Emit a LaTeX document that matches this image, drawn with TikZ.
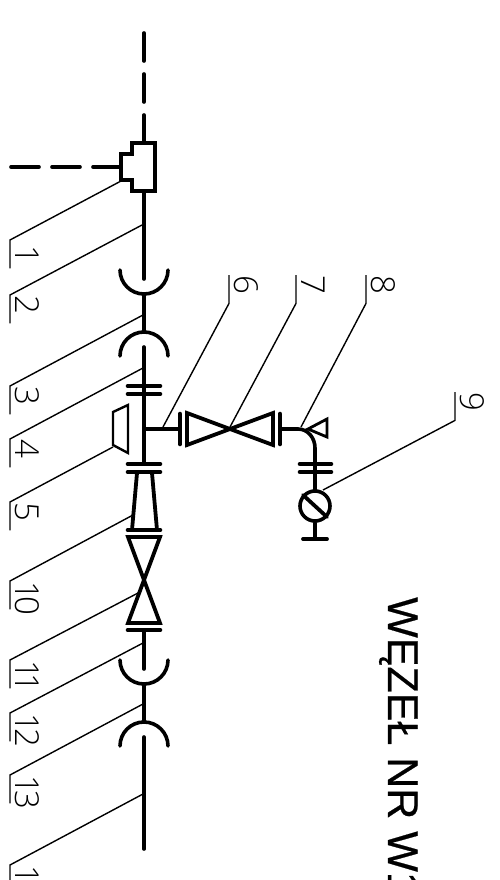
\documentclass[tikz,border=0pt]{standalone}
\usepackage{fontspec}
\setmainfont{Liberation Sans}
\newfontfamily\numfont[UprightFont=* Light]{Open Sans}
\newfontfamily\titlefont[FakeBold=0.5]{Liberation Sans}
\usepackage{tikz}
\usetikzlibrary{positioning}

\begin{document}
\begin{tikzpicture}[x=1pt, y=-1pt, line cap=round, line join=miter,
  pipe/.style={draw, line width=3.6pt},
  flange/.style={draw, line width=4.6pt},
  fitting/.style={draw, line width=3.8pt},
  leader/.style={draw, line width=1.4pt, line cap=butt},
  posnum/.style={rotate=-90, anchor=south west, inner xsep=0pt, inner ysep=5pt, text width=28pt, text depth=0pt, font=\numfont\fontsize{33}{33}\selectfont},
  future/.style={pipe, dash pattern=on 28pt off 13pt}]

\clip (0, 0) rectangle (500, 880);

% dashed inlets

\coordinate (top) at (144, 33);
\coordinate (teetop) at (144, 143);
\coordinate (left) at (11, 167);
\coordinate (teeleft) at (121, 167);
\path [future] (top) to (teetop);
\path [future] (left) to (teeleft);

% tee

\path [fitting] (132, 143) -- (155, 143) -- (155, 191) -- (132, 191) -- (132, 180) -- (121, 180) -- (121, 154) -- (132, 154) -- cycle;

% main line

\coordinate (teebot) at (144, 191);
\coordinate (cup1) at (144, 295);
\coordinate (cap1) at (144, 332);
\coordinate (cup2) at (144, 684);
\coordinate (cap2) at (144, 722);
\path [pipe] (teebot) to (144, 279);
\path [pipe] (120, 270) arc [start angle=180, end angle=360, radius=24pt];
\path [pipe] (cup1) to (cap1);
\path [pipe] (120, 356) arc [start angle=180, end angle=0, radius=24pt];
\path [pipe] (144, 347) to (144, 464);
\path [flange] (128, 386) to (160, 386);
\path [flange] (128, 394) to (160, 394);
\path [flange] (128, 464) to (160, 464);
\path [flange] (128, 472) to (160, 472);

% reducer

\path [draw, line width=2.4pt] (128, 405) -- (128, 453) -- (113, 445) -- (113, 412) -- cycle;
\path [fitting] (137, 473) -- (132, 530);
\path [fitting] (152, 473) -- (157, 530);
\path [flange] (128, 530) to (160, 530);

% lower valve

\path [fitting] (128, 537) -- (160, 537) -- (144, 580) -- cycle;
\path [fitting] (128, 623) -- (160, 623) -- (144, 580) -- cycle;
\path [flange] (128, 630) to (160, 630);
\path [pipe] (144, 630) to (144, 669);
\path [pipe] (120, 660) arc [start angle=180, end angle=360, radius=24pt];
\path [pipe] (cup2) to (cap2);
\path [pipe] (120, 746) arc [start angle=180, end angle=0, radius=24pt];
\path [pipe] (144, 737) to (144, 849);

% branch

\coordinate (branch) at (144, 429);
\coordinate (stem) at (180, 429);
\path [pipe] (branch) to (stem);
\path [flange] (180, 414) to (180, 444);
\path [fitting] (187, 413) -- (187, 445) -- (230, 429) -- cycle;
\path [fitting] (273, 413) -- (273, 445) -- (230, 429) -- cycle;
\path [flange] (280, 414) to (280, 444);
\path [pipe] (280, 429) -- (298, 429) to [out=0, in=90] (315, 448) -- (315, 500);
\path [draw, line width=2.8pt] (308, 429) -- (327, 419) -- (327, 437) -- cycle;
\path [flange] (300, 464) to (331, 464);
\path [flange] (300, 472) to (331, 472);

\node [draw, line width=3.6pt, fill=white, circle, minimum size=30pt, inner sep=0pt] at (315, 506) (gauge) {};
\path [fitting] (303, 495) to (327, 517);
\path [pipe] (gauge.south) to (315, 539);
\path [flange, line width=3.8pt] (303, 539) to (327, 539);

% position numbers

\node [posnum] at (10, 240) (lab1) {\kern5pt 1};
\node [posnum] at (10, 295) (lab2) {2};
\node [posnum] at (10, 386) (lab3) {3};
\node [posnum] at (10, 439) (lab4) {4};
\node [posnum] at (10, 502) (lab5) {5};
\node [posnum] at (229, 275) (lab6) {6};
\node [posnum] at (296, 275) (lab7) {7};
\node [posnum] at (366, 275) (lab8) {8};
\node [posnum] at (455, 392) (lab9) {9};
\node [posnum] at (10, 581) (lab10) {1\kern-4pt 0};
\node [posnum] at (10, 660) (lab11) {1\kern-6pt 1};
\node [posnum] at (10, 713) (lab12) {1\kern-4pt 2};
\node [posnum] at (10, 775) (lab13) {1\kern-4pt 3};
\node [posnum] at (10, 865) (lab14) {1\kern-4pt 4};

% leaders

\coordinate (tip1) at (121, 181);
\coordinate (tip2) at (142, 225);
\coordinate (tip3) at (143, 315);
\coordinate (tip4) at (143, 368);
\coordinate (tip5) at (113, 447);
\coordinate (tip6) at (163, 427);
\coordinate (tip7) at (230, 427);
\coordinate (tip8) at (301, 427);
\coordinate (tip9) at (323, 490);
\coordinate (tip10) at (133, 515);
\coordinate (tip11) at (138, 593);
\coordinate (tip12) at (143, 643);
\coordinate (tip13) at (143, 704);
\coordinate (tip14) at (143, 794);

\path [leader] (tip1) -- (lab1.south west) -- (lab1.south east);
\path [leader] (tip2) -- (lab2.south west) -- (lab2.south east);
\path [leader] (tip3) -- (lab3.south west) -- (lab3.south east);
\path [leader] (tip4) -- (lab4.south west) -- (lab4.south east);
\path [leader] (tip5) -- (lab5.south west) -- (lab5.south east);
\path [leader] (tip6) -- (lab6.south east) -- (lab6.south west);
\path [leader] (tip7) -- (lab7.south east) -- (lab7.south west);
\path [leader] (tip8) -- (lab8.south east) -- (lab8.south west);
\path [leader] (tip9) -- (lab9.south east) -- (lab9.south west);
\path [leader] (tip10) -- (lab10.south west) -- (lab10.south east);
\path [leader] (tip11) -- (lab11.south west) -- (lab11.south east);
\path [leader] (tip12) -- (lab12.south west) -- (lab12.south east);
\path [leader] (tip13) -- (lab13.south west) -- (lab13.south east);
\path [leader] (tip14) -- (lab14.south west) -- (lab14.south east);

% title

\node [rotate=-90, anchor=base west, inner sep=0pt, font=\titlefont\fontsize{43}{43}\selectfont] at (388, 597) (title) {WĘZEŁ NR W1};

\end{tikzpicture}
\end{document}
